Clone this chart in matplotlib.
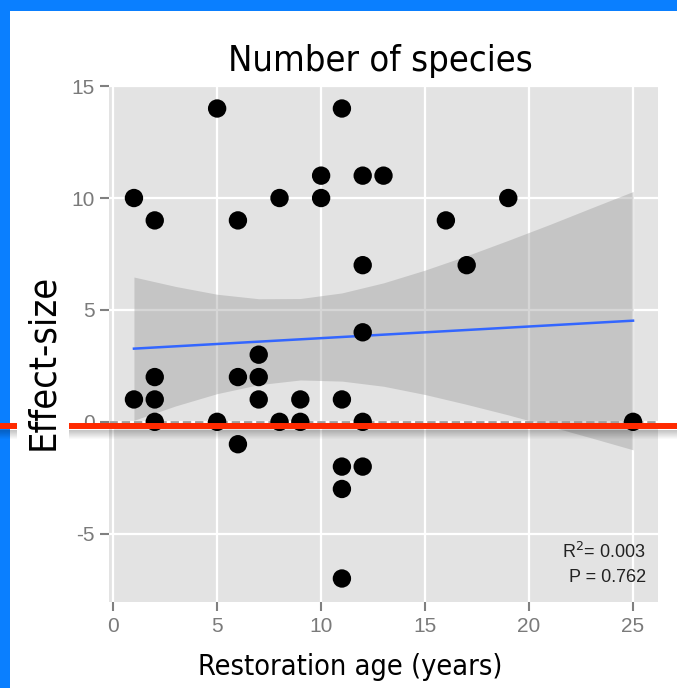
import numpy as np
import matplotlib
matplotlib.use("Agg")
import matplotlib.pyplot as plt
from matplotlib import font_manager as fm
from matplotlib.lines import Line2D
from matplotlib.patches import Rectangle

# ---------------- data ----------------
age = [1, 1, 2, 2, 2, 2, 5, 5, 6, 6, 6, 7, 7, 7, 8, 8, 9, 9, 10, 10,
       11, 11, 11, 11, 11, 12, 12, 12, 12, 12, 13, 16, 17, 19, 25]
effect = [10, 1, 9, 2, 1, 0, 14, 0, 9, 2, -1, 3, 2, 1, 10, 0, 1, 0, 11, 10,
          14, 1, -2, -3, -7, 11, 7, 4, 0, -2, 11, 9, 7, 10, 0]

# fitted line and confidence band
fit_age = [1, 25]
fit_effect = [3.27, 4.52]
band_age = [1, 3, 5, 7, 9, 11, 13, 15, 17, 19, 21, 23, 25]
band_upper = [6.47, 6.05, 5.70, 5.50, 5.51, 5.76, 6.21, 6.78, 7.42, 8.11, 8.82, 9.56, 10.29]
band_lower = [0.07, 0.71, 1.26, 1.66, 1.87, 1.82, 1.59, 1.22, 0.78, 0.31, -0.20, -0.72, -1.25]

x_ticks = [0, 5, 10, 15, 20, 25]
y_ticks = [-5, 0, 5, 10, 15]
x_tick_labels = ["0", "5", "10", "15", "20", "25"]
y_tick_labels = ["-5", "0", "5", "10", "15"]

title_text = "Number of species"
xlabel_text = "Restoration age (years)"
ylabel_text = "Effect-size"
stats_lines = [r"R$^{2}$= 0.003", "P = 0.762"]

# ---------------- fonts ----------------
def label_font():
    try:
        p = fm.findfont(fm.FontProperties(family="DejaVu Sans", stretch="condensed"),
                        fallback_to_default=False)
        if "Condensed" in p:
            return fm.FontProperties(fname=p)
    except Exception:
        pass
    return fm.FontProperties(family="DejaVu Sans")

plt.rcParams["axes.unicode_minus"] = False
plt.rcParams["font.family"] = ["Liberation Sans", "DejaVu Sans"]

W, H = 677, 688
fig = plt.figure(figsize=(W / 100, H / 100), dpi=100)
fig.patch.set_facecolor("white")

# panel position (pixels)
pl, pr, pt, pb = 109, 658, 85, 602
ax = fig.add_axes([pl / W, 1 - pb / H, (pr - pl) / W, (pb - pt) / H])
ax.set_facecolor("#E3E3E3")
for s in ax.spines.values():
    s.set_visible(False)

ax.set_xlim(-0.2, 26.2)
ax.set_ylim(-8.05, 15.05)
ax.set_xticks(x_ticks)
ax.set_xticklabels(x_tick_labels)
ax.set_yticks(y_ticks)
ax.set_yticklabels(y_tick_labels)
ax.grid(True, color="white", linewidth=1.6, zorder=0)
ax.set_axisbelow(True)
ax.tick_params(axis="both", colors="#808080", labelcolor="#7A7A7A", length=6.5,
               width=1.5, labelsize=15, pad=4)

# confidence band, fitted line, reference line, points
ax.fill_between(band_age, band_lower, band_upper, color="#999999", alpha=0.4,
                linewidth=0, zorder=2)
ax.axhline(0, color="#9E9E9E", linewidth=2.0, linestyle=(0, (3.0, 1.4)), zorder=2.5)
ax.plot(fit_age, fit_effect, color="#3366FF", linewidth=1.8, zorder=3)
ax.scatter(age, effect, s=175, color="black", edgecolors="none", zorder=4)

# statistics text
for i, t in enumerate(stats_lines):
    ax.text(0.978, 0.097 - i * 0.049, t, transform=ax.transAxes, ha="right",
            va="center", fontsize=13, color="#222222", zorder=5)

# titles
lf = label_font()
title = fig.text(380.5 / W, 1 - 71 / H, title_text, ha="center", va="baseline",
                 fontproperties=lf, fontsize=26, color="black")
xlab = fig.text(350.5 / W, 1 - 675 / H, xlabel_text, ha="center", va="baseline",
                fontproperties=lf, fontsize=24, color="black")
ylab = fig.text(43 / W, 1 - 362 / H, ylabel_text, ha="center", va="center",
                rotation=90, fontproperties=lf, fontsize=24, color="black",
                zorder=10,
                bbox=dict(boxstyle="square,pad=0.22", fc="white", ec="none"))

# fit text sizes to the reference widths
fig.canvas.draw()
r = fig.canvas.get_renderer()
for txt, target, horiz in [(title, 305, True), (xlab, 305, True), (ylab, 177, False)]:
    bb = txt.get_window_extent(renderer=r)
    cur = bb.width if horiz else bb.height
    txt.set_fontsize(txt.get_fontsize() * target / cur)

# slide decorations: blue frame (top & left)
fig.add_artist(Rectangle((0, 0), 10 / W, 1, transform=fig.transFigure,
                         facecolor="#0A7FFF", edgecolor="none", zorder=6))
fig.add_artist(Rectangle((0, 1 - 11 / H), 1, 11 / H, transform=fig.transFigure,
                         facecolor="#0A7FFF", edgecolor="none", zorder=6))

# red horizontal line with soft shadow
y_red = 1 - 426 / H
for i in range(9):
    yy = y_red - (3.5 + i) / H
    fig.add_artist(Line2D([0, 1], [yy, yy], transform=fig.transFigure,
                          color="black", alpha=0.22 * (1 - i / 9), linewidth=0.75,
                          zorder=7))
fig.add_artist(Line2D([0, 1], [y_red, y_red], transform=fig.transFigure,
                      color="#FF2A00", linewidth=4.3, solid_capstyle="butt", zorder=8))

fig.savefig("out.png", dpi=100, facecolor="white")
